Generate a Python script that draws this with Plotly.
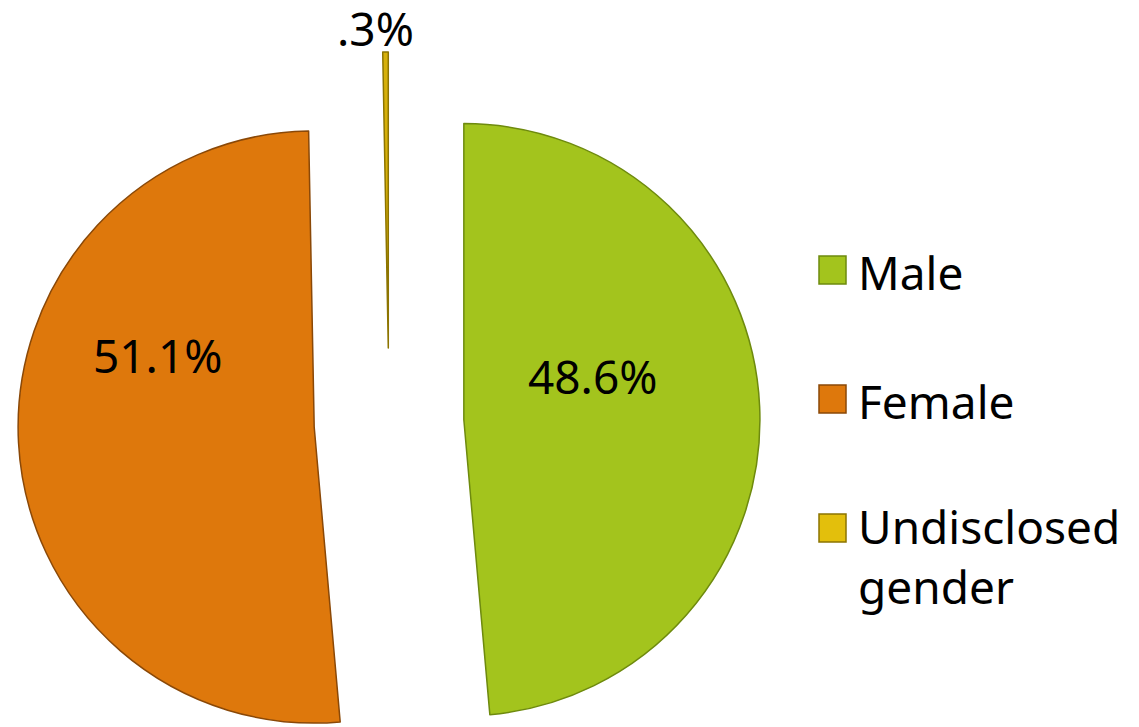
import plotly.graph_objects as go

# ---- data ----
labels = ["Male", "Female", "Undisclosed gender"]
values = [48.6, 51.1, 0.3]

# ---- style ----
slice_colors = ["#A3C41D", "#DE780C", "#D6B00A"]
border_colors = ["#6E8A0E", "#8A4807", "#8C7400"]
legend_colors = ["#A3C41D", "#DE780C", "#E3BF0C"]
FONT = "Noto Sans"
FS = 46
OFF = 8                      # default page (body) margin of the html page
CX, CY, R_OUT = 389, 423, 371  # on-screen pie centre and half-size of pie box (px)
W, H = 1139, 2 * (CY - OFF)   # figure is taller than the window; bottom cropped as in reference

texts = [f"{v:.1f}%".lstrip("0") for v in values]

fig = go.Figure(
    go.Pie(
        labels=labels,
        values=values,
        textinfo="none",
        sort=False,
        direction="clockwise",
        rotation=0,
        pull=[0.253] * len(values),
        marker=dict(colors=slice_colors, line=dict(color=border_colors, width=1.5)),
        domain=dict(x=[(CX - R_OUT - OFF) / W, (CX + R_OUT - OFF) / W], y=[0, 1]),
        showlegend=False,
        hoverinfo="label+percent",
    )
)

def px_x(x):
    return (x - OFF) / W

def px_y(y):
    return 1 - (y - OFF) / H

shapes = []
annotations = []

# percentage labels (on-screen pixel centres of the label text)
label_pos = [(593, 376), (158, 355), (375, 28)]
for t, (lx, ly) in zip(texts, label_pos):
    annotations.append(dict(text=t, xref="paper", yref="paper", x=px_x(lx), y=px_y(ly),
                            xanchor="center", yanchor="middle", showarrow=False,
                            font=dict(family=FONT, size=FS, color="black")))

# custom legend (wide spacing as in reference)
legend_rows = [271, 400, 529]
line_gap = 51
for lab, col, bcol, yc in zip(labels, legend_colors, border_colors, legend_rows):
    shapes.append(dict(type="rect", xref="paper", yref="paper",
                       x0=px_x(819), x1=px_x(846), y0=px_y(yc + 13), y1=px_y(yc - 15),
                       fillcolor=col, line=dict(color=bcol, width=1.5)))
    words = lab.split()
    lines = [lab] if len(lab) <= 12 else [words[0], " ".join(words[1:])]
    ymid = yc + 1 + (len(lines) - 1) * line_gap / 2
    annotations.append(dict(text="<br>".join(lines), xref="paper", yref="paper",
                            x=px_x(856), y=px_y(ymid), align="left",
                            xanchor="left", yanchor="middle", showarrow=False,
                            font=dict(family=FONT, size=FS, color="black")))

fig.update_layout(
    width=W, height=H,
    margin=dict(l=0, r=0, t=0, b=0, autoexpand=False),
    paper_bgcolor="white", plot_bgcolor="white",
    shapes=shapes, annotations=annotations,
    showlegend=False,
)

fig.write_html("out.html")
